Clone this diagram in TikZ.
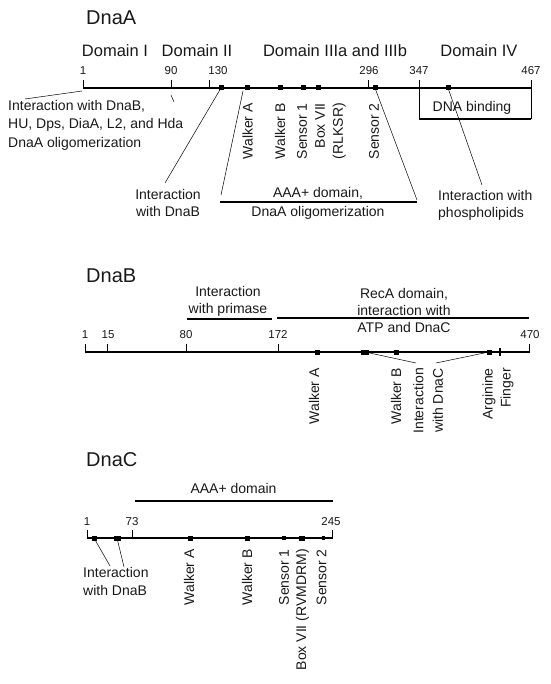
\documentclass[tikz,border=0pt]{standalone}
\usepackage{fontspec}
\setmainfont{Liberation Sans}
\begin{document}
\begin{tikzpicture}[x=1pt,y=-1pt,
  lbl/.style={font=\fontsize{14}{17}\selectfont, inner sep=0, text=black!90},
  num/.style={font=\fontsize{11.5}{13}\selectfont, inner sep=0, anchor=base, text=black!90},
  dom/.style={font=\fontsize{16.5}{19}\selectfont, inner sep=0, anchor=base, text=black!90},
  ttl/.style={font=\fontsize{20}{24}\selectfont, inner sep=0, anchor=base west, text=black!90},
  axisline/.style={line width=2.2pt},
  tickline/.style={line width=1pt},
  mk/.style={fill=black, draw=none, minimum width=5pt, minimum height=5pt, inner sep=0},
  mkw/.style={mk, minimum width=8pt},
  mkthin/.style={fill=black, draw=none, minimum width=1.6pt, minimum height=8pt, inner sep=0},
  ptr/.style={line width=0.5pt},
  barline/.style={line width=2pt},
  vlbl/.style={lbl, rotate=90, anchor=east, align=right},
]
\useasboundingbox (0,0) rectangle (550,684);

% ================= DnaA =================
\node[ttl] (tA) at (86,25) {DnaA};
\node[dom] (dA1) at (115,57) {Domain I};
\node[dom] (dA2) at (197,57) {Domain II};
\node[dom] (dA3) at (335,57) {Domain IIIa and IIIb};
\node[dom] (dA4) at (479,57) {Domain IV};

\node[num] (nA1) at (83,75) {1};
\node[num] (nA2) at (171,75) {90};
\node[num] (nA3) at (218,75) {130};
\node[num] (nA4) at (369,75) {296};
\node[num] (nA5) at (419,75) {347};
\node[num] (nA6) at (531,75) {467};

\coordinate (aA0) at (83,88);
\coordinate (aA1) at (531,88);
\draw[axisline] (aA0) -- (aA1);
\foreach \x in {83,171,209,368,419,531} \draw[tickline] (\x,89) -- (\x,80);

\node[mk] (mA1) at (221,88) {};
\node[mk] (mA2) at (247,88) {};
\node[mk] (mA3) at (280,88) {};
\node[mk] (mA4) at (303,88) {};
\node[mk] (mA5) at (318,88) {};
\node[mk] (mA6) at (375,88) {};
\node[mk] (mA7) at (448,88) {};

\node[lbl, font=\fontsize{14}{18.5}\selectfont, anchor=north west, align=left] (tAi) at (8,100)
  {Interaction with DnaB,\\HU, Dps, DiaA, L2, and Hda\\DnaA oligomerization};
\coordinate (pA1a) at (82,91);
\coordinate (pA1b) at (25,99);
\draw[ptr] (pA1a) -- (pA1b);
\coordinate (pA2a) at (171,95);
\coordinate (pA2b) at (174,102);
\draw[ptr] (pA2a) -- (pA2b);

\node[lbl, anchor=north, align=center] (tAb) at (168,189) {Interaction\\with DnaB};
\coordinate (cAb) at (165,183);
\draw[ptr] (mA1.center) -- (cAb);

\coordinate (bA0) at (220,202);
\coordinate (bA1) at (417,202);
\draw[barline] (bA0) -- (bA1);
\node[lbl, font=\fontsize{14}{19}\selectfont, anchor=north, align=center] (tAaaa) at (318,187)
  {AAA+ domain,\\DnaA oligomerization};
\coordinate (cA2a) at (243,91);
\coordinate (cA2b) at (221,195);
\draw[ptr] (cA2a) -- (cA2b);
\coordinate (cA3b) at (417,200);
\draw[ptr] (mA6.center) -- (cA3b);

\node[vlbl] (vA1) at (247.5,103) {Walker A};
\node[vlbl] (vA2) at (280,103) {Walker B};
\node[vlbl] (vA3) at (302,103) {Sensor 1};
\node[vlbl, font=\fontsize{14}{18}\selectfont] (vA4) at (330.5,103) {Box VII\\(RLKSR)};
\node[vlbl] (vA5) at (374,103) {Sensor 2};

\coordinate (kA0) at (419,119);
\coordinate (kA1) at (531,119);
\draw[tickline] (419,88) -- (kA0);
\draw[tickline] (531,88) -- (kA1);
\draw[barline] (kA0) -- (kA1);
\node[lbl, anchor=base] (tAdna) at (472,112) {DNA binding};

\node[lbl, anchor=north west, align=left] (tAph) at (438,190) {Interaction with\\phospholipids};
\coordinate (cAph) at (482,185);
\draw[ptr] (mA7.center) -- (cAph);

% ================= DnaB =================
\node[ttl] (tB) at (86,282) {DnaB};
\node[lbl, anchor=north, align=center] (tBp) at (228,286) {Interaction\\with primase};
\coordinate (bB0) at (187,319);
\coordinate (bB1) at (272,319);
\draw[barline] (bB0) -- (bB1);
\coordinate (bB2) at (277,318);
\coordinate (bB3) at (529,318);
\draw[barline] (bB2) -- (bB3);
\node[lbl, anchor=north, align=center] (tBr) at (404,288) {RecA domain,\\interaction with\\ATP and DnaC};

\node[num] (nB1) at (85,338) {1};
\node[num] (nB2) at (108,338) {15};
\node[num] (nB3) at (186,338) {80};
\node[num] (nB4) at (278,338) {172};
\node[num] (nB5) at (530,338) {470};

\coordinate (aB0) at (85,352);
\coordinate (aB1) at (529,352);
\draw[axisline] (aB0) -- (aB1);
\foreach \x in {85,107,186,278,529} \draw[tickline] (\x,353) -- (\x,344);

\node[mk] (mB1) at (317,352) {};
\node[mkw] (mB2) at (365,352) {};
\node[mk] (mB3) at (396,352) {};
\node[mk] (mB4) at (489,352) {};
\node[mkthin] (mB5) at (500,352) {};

\coordinate (cB1) at (416,363);
\coordinate (cB2) at (436,363);
\draw[ptr] (mB2.center) -- (cB1);
\draw[ptr] (cB2) -- (mB4.center);

\node[vlbl] (vB1) at (314,368) {Walker A};
\node[vlbl] (vB2) at (396,368) {Walker B};
\node[vlbl, font=\fontsize{14}{19.5}\selectfont] (vB3) at (428,368) {Interaction\\with DnaC};
\node[vlbl, font=\fontsize{14}{18}\selectfont] (vB4) at (498,368) {Arginine\\Finger};

% ================= DnaC =================
\node[ttl] (tC) at (86,466) {DnaC};
\coordinate (bC0) at (135,501);
\coordinate (bC1) at (333,501);
\draw[barline] (bC0) -- (bC1);
\node[lbl, anchor=base] (tCaaa) at (233.5,493) {AAA+ domain};

\node[num] (nC1) at (87,525) {1};
\node[num] (nC2) at (132,525) {73};
\node[num] (nC3) at (331,525) {245};

\coordinate (aC0) at (87,538);
\coordinate (aC1) at (332,538);
\draw[axisline] (aC0) -- (aC1);
\foreach \x in {87,132,332} \draw[tickline] (\x,539) -- (\x,530);

\node[mk] (mC1) at (94,538) {};
\node[mk, minimum width=7pt] (mC2) at (117,538) {};
\node[mk] (mC3) at (190,538) {};
\node[mk] (mC4) at (247,538) {};
\node[mk, minimum width=4pt, minimum height=4pt] (mC5) at (284,538) {};
\node[mk, minimum width=6pt] (mC6) at (302,538) {};
\node[mk, minimum width=3pt, minimum height=4pt] (mC7) at (323,538) {};

\node[lbl, font=\fontsize{14}{18}\selectfont, anchor=north west, align=left] (tCb) at (83,567) {Interaction\\with DnaB};
\coordinate (cC1) at (110,566);
\coordinate (cC2) at (124,567);
\draw[ptr] (mC1.center) -- (cC1);
\draw[ptr] (mC2.center) -- (cC2);

\node[vlbl] (vC1) at (189,549) {Walker A};
\node[vlbl] (vC2) at (247,549) {Walker B};
\node[vlbl] (vC3) at (284,549) {Sensor 1};
\node[vlbl] (vC4) at (302.5,549) {Box VII (RVMDRM)};
\node[vlbl] (vC5) at (321.5,549) {Sensor 2};
\end{tikzpicture}
\end{document}
